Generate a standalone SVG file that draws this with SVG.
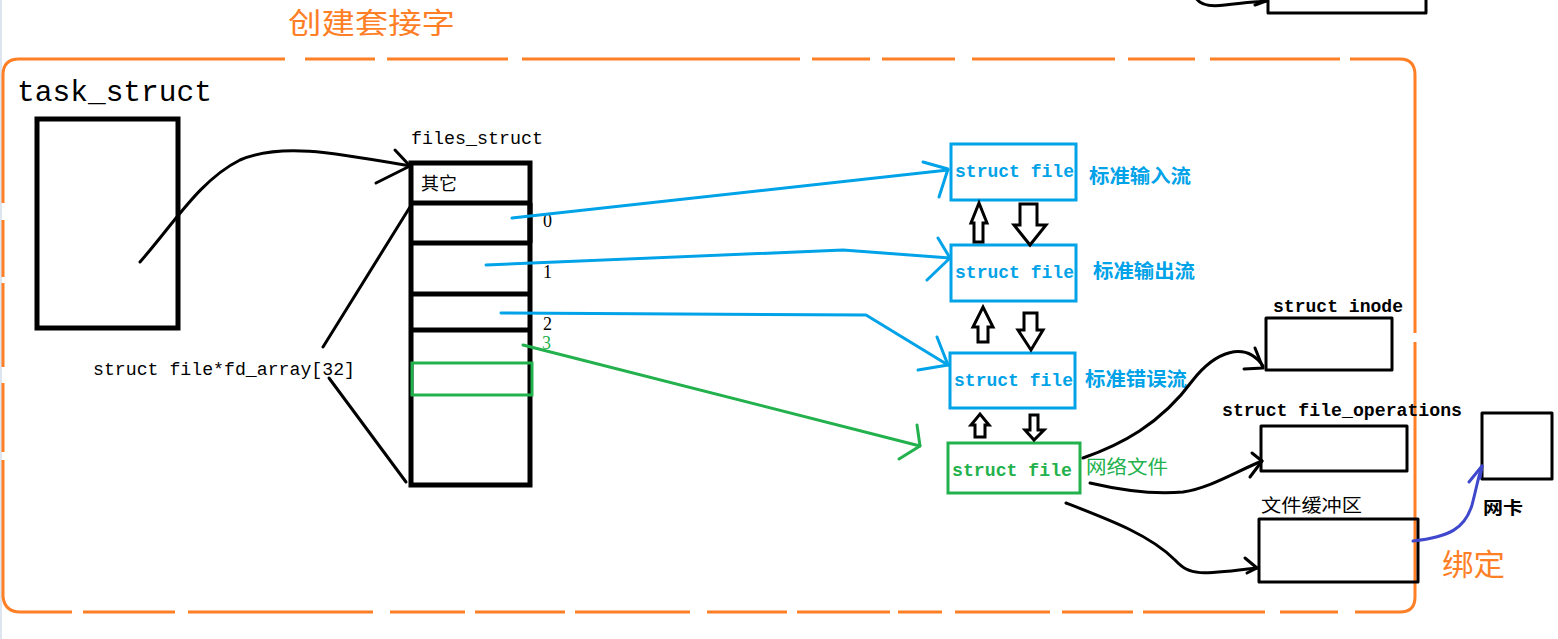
<svg xmlns="http://www.w3.org/2000/svg" width="1558" height="639" viewBox="0 0 1558 639">
<style>
.mono{font-family:"Liberation Mono","DejaVu Sans Mono",monospace;}
.cjk{font-family:"Noto Sans CJK SC",sans-serif;}
.blk{fill:none;stroke:#000;stroke-width:5;}
.thin{fill:none;stroke:#000;stroke-width:3;stroke-linecap:round;stroke-linejoin:round;}
.blue{fill:none;stroke:#00A2E8;stroke-width:3;stroke-linecap:round;stroke-linejoin:round;}
.green{fill:none;stroke:#22B14C;stroke-width:3;stroke-linecap:round;stroke-linejoin:round;}
.orange{fill:none;stroke:#FF7F27;stroke-width:3;}
.hollow{fill:#fff;stroke:#000;stroke-width:3;stroke-linejoin:miter;}
</style>
<rect x="0" y="0" width="1558" height="639" fill="#fff"/>
<rect x="0" y="0" width="2" height="639" fill="#dde6f0"/>

<g id="frame">
  <path class="orange" d="M3,75 Q3,59 19,59 L285,59 M305,59 L375,59 M387,59 L508,59 M522,59 L800,59 M812,59 L870,59 M882,59 L955,59 M972,59 L1115,59 M1128,59 L1195,59 M1210,59 L1340,59 M1350,59 L1400,59 Q1415,59 1415,75 L1415,333 M1415,342 L1415,597 Q1415,612 1400,612 L1355,612 M1338,612 L1280,612 M1265,612 L1143,612 M1133,612 L1062,612 M1050,612 L955,612 M942,612 L898,612 M890,612 L797,612 M787,612 L707,612 M690,612 L575,612 M565,612 L475,612 M465,612 L390,612 M373,612 L188,612 M175,612 L83,612 M72,612 L20,612 Q5,612 3,597 L3,460 M3,452 L3,383 M3,367 L3,283 M3,277 L3,220 M3,203 L3,75"/>
  <text x="288" y="34" class="cjk" font-size="29" fill="#FF7F27" textLength="167" lengthAdjust="spacingAndGlyphs">创建套接字</text>
</g>

<g id="task_struct">
  <text x="17" y="101" class="mono" font-size="29" fill="#000" textLength="195" lengthAdjust="spacingAndGlyphs">task_struct</text>
  <rect class="blk" x="37" y="119" width="141" height="209"/>
</g>

<g id="files_struct">
  <text x="411" y="144" class="mono" font-size="18" fill="#000" textLength="132" lengthAdjust="spacingAndGlyphs">files_struct</text>
  <rect class="blk" x="411" y="163" width="119" height="322"/>
  <line class="blk" x1="411" y1="203" x2="532" y2="203"/>
  <line class="blk" x1="411" y1="243" x2="532" y2="243"/>
  <line class="blk" x1="530" y1="203" x2="530" y2="243" stroke-width="6"/>
  <line class="blk" x1="411" y1="294" x2="530" y2="294"/>
  <line class="blk" x1="411" y1="330" x2="530" y2="330"/>
  <rect x="412" y="363" width="120" height="32" fill="none" stroke="#22B14C" stroke-width="3"/>
  <text x="421" y="190" class="cjk" font-size="18" fill="#000">其它</text>
  <text x="543" y="227" font-family="Liberation Serif,serif" font-size="18" fill="#000">0</text>
  <text x="543" y="278" font-family="Liberation Serif,serif" font-size="18" fill="#000">1</text>
  <text x="543" y="330" font-family="Liberation Serif,serif" font-size="18" fill="#000">2</text>
  <text x="542" y="349" font-family="Liberation Serif,serif" font-size="18" fill="#22B14C">3</text>
</g>

<g id="fd_array">
  <text x="93" y="375" class="mono" font-size="18" fill="#000" textLength="262" lengthAdjust="spacingAndGlyphs">struct file*fd_array[32]</text>
</g>

<g id="file0">
  <rect x="951" y="144" width="125" height="56" fill="none" stroke="#00A2E8" stroke-width="3"/>
  <text x="955" y="177" class="mono" font-size="18" font-weight="bold" fill="#00A2E8" textLength="119" lengthAdjust="spacingAndGlyphs">struct file</text>
  <text x="1089" y="183" class="cjk" font-size="19" font-weight="bold" fill="#00A2E8" textLength="102" lengthAdjust="spacingAndGlyphs">标准输入流</text>
</g>
<g id="file1">
  <rect x="951" y="245" width="125" height="56" fill="none" stroke="#00A2E8" stroke-width="3"/>
  <text x="955" y="278" class="mono" font-size="18" font-weight="bold" fill="#00A2E8" textLength="119" lengthAdjust="spacingAndGlyphs">struct file</text>
  <text x="1093" y="278" class="cjk" font-size="19" font-weight="bold" fill="#00A2E8" textLength="102" lengthAdjust="spacingAndGlyphs">标准输出流</text>
</g>
<g id="file2">
  <rect x="950" y="353" width="125" height="55" fill="none" stroke="#00A2E8" stroke-width="3"/>
  <text x="954" y="386" class="mono" font-size="18" font-weight="bold" fill="#00A2E8" textLength="119" lengthAdjust="spacingAndGlyphs">struct file</text>
  <text x="1085" y="386" class="cjk" font-size="19" font-weight="bold" fill="#00A2E8" textLength="102" lengthAdjust="spacingAndGlyphs">标准错误流</text>
</g>
<g id="file3">
  <rect x="948" y="443" width="132" height="50" fill="none" stroke="#22B14C" stroke-width="3"/>
  <text x="952" y="476" class="mono" font-size="18" font-weight="bold" fill="#22B14C" textLength="120" lengthAdjust="spacingAndGlyphs">struct file</text>
  <text x="1086" y="474" class="cjk" font-size="19" fill="#22B14C" textLength="82" lengthAdjust="spacingAndGlyphs">网络文件</text>
</g>

<g id="inode">
  <text x="1273" y="312" class="mono" font-size="18" font-weight="bold" fill="#000" textLength="130" lengthAdjust="spacingAndGlyphs">struct inode</text>
  <rect class="thin" x="1266" y="318" width="126" height="52" stroke-linecap="butt"/>
</g>
<g id="file_operations">
  <text x="1222" y="416" class="mono" font-size="18" font-weight="bold" fill="#000" textLength="240" lengthAdjust="spacingAndGlyphs">struct file_operations</text>
  <rect class="thin" x="1261" y="426" width="146" height="45" stroke-linecap="butt"/>
</g>
<g id="buffer">
  <text x="1261" y="512" class="cjk" font-size="18" fill="#000" textLength="101" lengthAdjust="spacingAndGlyphs">文件缓冲区</text>
  <rect class="thin" x="1259" y="519" width="159" height="63" stroke-linecap="butt"/>
</g>
<g id="nic">
  <rect class="thin" x="1482" y="413" width="70" height="66" stroke-linecap="butt"/>
  <text x="1483" y="514" class="cjk" font-size="17" font-weight="bold" fill="#000" textLength="40" lengthAdjust="spacingAndGlyphs">网卡</text>
</g>
<g id="bind_label">
  <text x="1442" y="575" class="cjk" font-size="30" fill="#FF7F27" textLength="63" lengthAdjust="spacingAndGlyphs">绑定</text>
</g>
<g id="top_right_box">
  <rect class="thin" x="1268" y="-5" width="158" height="18" stroke-linecap="butt"/>
</g>

<g id="connectors">
  <path class="thin" stroke-width="4" d="M140,262 C175,222 200,180 240,160 C280,143 330,152 410,166"/>
  <path class="thin" stroke-width="3" d="M395,150 L410,166 L376,183"/>
  <line class="thin" stroke-width="4" x1="323" y1="347" x2="410" y2="207"/>
  <line class="thin" stroke-width="4" x1="329" y1="378" x2="406" y2="482"/>
  <path class="blue" d="M512,218 L948,170"/>
  <path class="blue" d="M923,162 L948,169 L939,197"/>
  <path class="blue" d="M486,265 L843,250 L950,258"/>
  <path class="blue" d="M938,238 L950,258 L927,280"/>
  <path class="blue" d="M501,313 L866,315 L948,365"/>
  <path class="blue" d="M937,337 L948,365 L918,370"/>
  <path class="green" d="M523,345 L920,446"/>
  <path class="green" d="M917,425 L920,446 L899,459"/>
  <path class="hollow" d="M974,242 L974,223 L971,223 L979,203 L987,223 L983,223 L983,242 Z"/>
  <path class="hollow" d="M1020,204 L1037,204 L1037,225 L1046,225 L1030,245 L1014,225 L1020,225 Z"/>
  <path class="hollow" d="M978,342 L978,327 L973,327 L983,307 L993,327 L988,327 L988,342 Z"/>
  <path class="hollow" d="M1024,313 L1037,313 L1037,330 L1043,330 L1031,350 L1018,330 L1024,330 Z"/>
  <path class="hollow" d="M975,437 L975,425 L971,425 L980,414 L989,425 L985,425 L985,437 Z"/>
  <path class="hollow" d="M1030,415 L1038,415 L1038,430 L1044,430 L1034,440 L1025,430 L1030,430 Z"/>
  <path class="thin" d="M1083,458 C1120,445 1160,425 1193,380 C1215,352 1245,340 1263,366"/>
  <path class="thin" d="M1244,369 L1263,368 L1255,348"/>
  <path class="thin" d="M1090,483 C1120,490 1150,495 1183,492 C1210,488 1235,472 1262,461"/>
  <path class="thin" d="M1252,453 L1262,461 L1250,477"/>
  <path class="thin" d="M1066,503 C1110,520 1150,535 1175,560 C1190,576 1200,575 1257,568"/>
  <path class="thin" d="M1245,558 L1257,568 L1247,573"/>
  <path fill="none" stroke="#3F48CC" stroke-width="3" stroke-linecap="round" d="M1413,541 C1450,537 1465,528 1472,505 C1476,490 1478,478 1482,466"/>
  <path fill="none" stroke="#3F48CC" stroke-width="3" stroke-linecap="round" stroke-linejoin="round" d="M1469,482 L1482,466 L1480,478"/>
  <path class="thin" d="M1196,-2 C1200,5 1210,7 1225,5 C1240,3 1255,2 1266,1"/>
  <path class="thin" d="M1255,5 L1266,1"/>
</g>
</svg>
